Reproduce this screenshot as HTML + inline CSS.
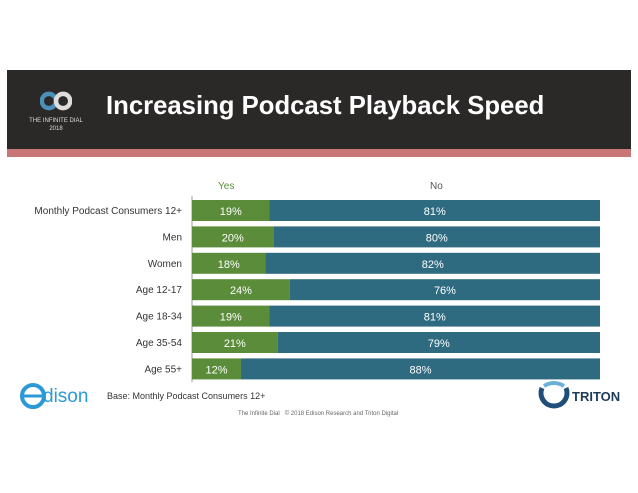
<!DOCTYPE html>
<html><head><meta charset="utf-8"><style>
body{margin:0;width:638px;height:493px;background:#fff;font-family:"Liberation Sans",sans-serif;position:relative;overflow:hidden}
.abs{position:absolute}
</style></head><body>
<div class="abs" style="left:7px;top:70px;width:624px;height:79px;background:#2b2828"></div>
<div class="abs" style="left:7px;top:149px;width:624px;height:8px;background:#c87676"></div>
<svg class="abs" style="left:40px;top:88px" width="32" height="26" viewBox="0 0 36 26">
<circle cx="10" cy="13" r="8" fill="none" stroke="#4a90b8" stroke-width="5"/><circle cx="26" cy="13" r="8" fill="none" stroke="#ddd" stroke-width="5"/></svg>
<div class="abs" style="left:20px;top:117px;width:72px;text-align:center;color:#ddd;font-size:6px;line-height:8px;white-space:nowrap">THE INFINITE DIAL<br>2018</div>
<div class="abs" style="left:106px;top:92px;color:#fff;font-size:25.7px;font-weight:bold;white-space:nowrap">Increasing Podcast Playback Speed</div>
<div class="abs" style="left:218px;top:181px;color:#5b8c3a;font-size:10px">Yes</div>
<div class="abs" style="left:430px;top:181px;color:#555;font-size:10px">No</div>
<svg class="abs" id="chart" style="left:0;top:0" width="638" height="493"></svg>
<svg class="abs" style="left:18px;top:380px" width="30" height="32"><circle cx="15" cy="16" r="11" fill="none" stroke="#2a9ad6" stroke-width="4"/><line x1="6" y1="16" x2="24" y2="16" stroke="#2a9ad6" stroke-width="3"/></svg>
<div class="abs" style="left:43px;top:386px;color:#2a9ad6;font-size:19px">dison</div>
<div class="abs" style="left:107px;top:391px;color:#333;font-size:9px">Base: Monthly Podcast Consumers 12+</div>
<div class="abs" style="left:238px;top:411px;color:#666;font-size:6px">The Infinite Dial &nbsp; © 2018 Edison Research and Triton Digital</div>
<svg class="abs" style="left:538px;top:380px" width="32" height="32"><path d="M4 8 A13 13 0 1 0 28 8" fill="none" stroke="#1f4e79" stroke-width="5"/><path d="M6 6 Q16 0 26 6" fill="none" stroke="#6ab0d8" stroke-width="4"/></svg>
<div class="abs" style="left:572px;top:389px;color:#1f3b5a;font-size:13px;font-weight:bold">TRITON</div>
<script>
const categories=["Monthly Podcast Consumers 12+","Men","Women","Age 12-17","Age 18-34","Age 35-54","Age 55+"];
const yesValues=[19,20,18,24,19,21,12];
const noValues=[81,80,82,76,81,79,88];
const svg=document.getElementById('chart');
const NS="http://www.w3.org/2000/svg";
const x0=192,x1=600;
const xs=v=>x0+(x1-x0)*v/100;
const ys=i=>200+i*26.4;
const bh=21;
function mk(t,a){const e=document.createElementNS(NS,t);for(const k in a)e.setAttribute(k,a[k]);svg.appendChild(e);return e;}
const ax=mk('line',{x1:x0,y1:196,x2:x0,y2:382,stroke:'#999','stroke-width':1});


categories.forEach((c,i)=>{
  const y=ys(i);
  const yb=mk('rect',{x:xs(0),y:y,width:xs(yesValues[i])-xs(0),height:bh,fill:'#5b8c3a'});
  
  
  const nb=mk('rect',{x:xs(yesValues[i]),y:y,width:xs(yesValues[i]+noValues[i])-xs(yesValues[i]),height:bh,fill:'#2e6b80'});
  
  
  const lb=mk('text',{x:x0-10,y:y+14,'text-anchor':'end','font-size':10,fill:'#333'});
  lb.textContent=c;
  
  
  const yt=mk('text',{x:(xs(0)+xs(yesValues[i]))/2,y:y+15,'text-anchor':'middle','font-size':11,fill:'#fff'});
  yt.textContent=yesValues[i]+'%';
  
  
  const nt=mk('text',{x:(xs(yesValues[i])+xs(yesValues[i]+noValues[i]))/2,y:y+15,'text-anchor':'middle','font-size':11,fill:'#fff'});
  nt.textContent=noValues[i]+'%';
  
  
});
</script>
</body></html>
